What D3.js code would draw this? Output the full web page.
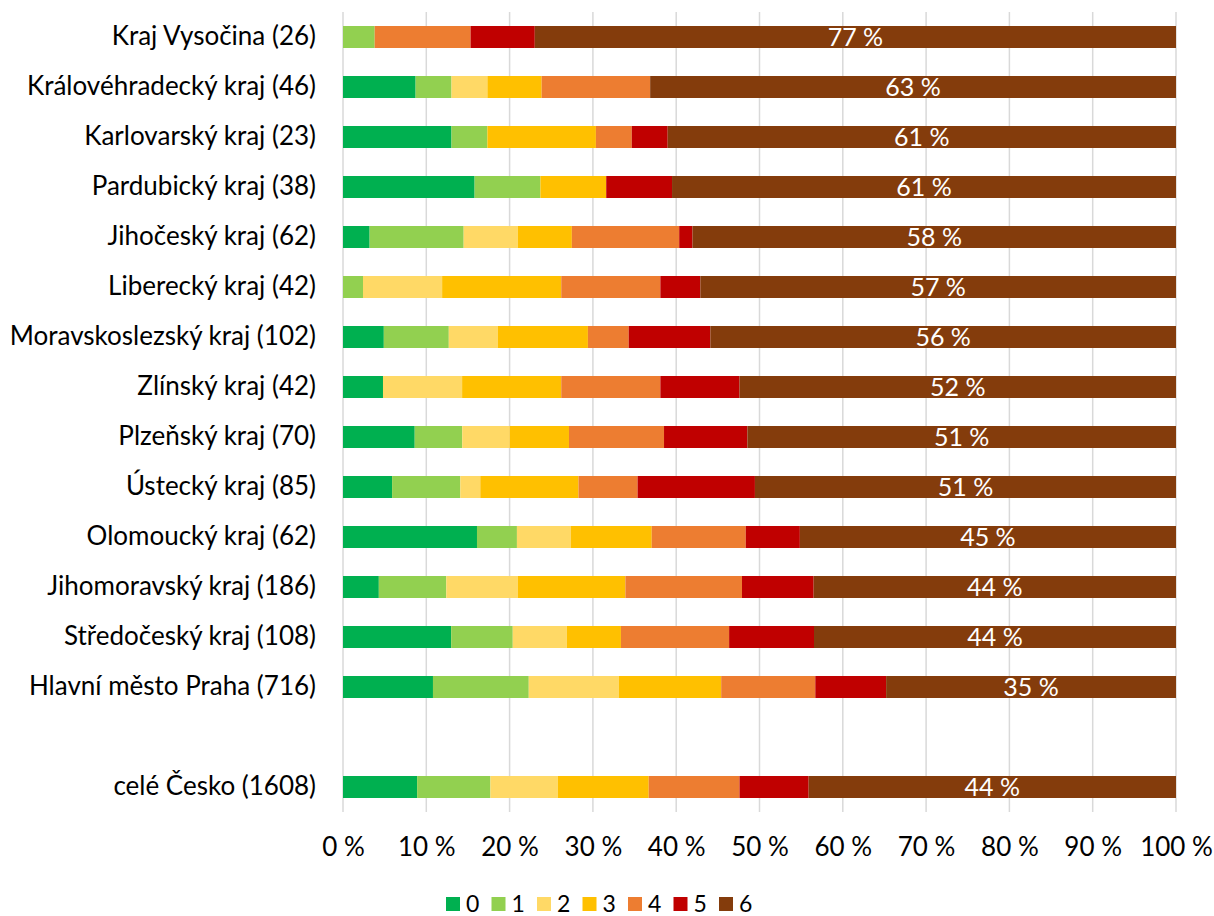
<!DOCTYPE html>
<html>
<head>
<meta charset="utf-8">
<script src="https://cdn.jsdelivr.net/npm/d3@7"></script>
<style>
  html, body { margin: 0; padding: 0; background: #fff; }
  svg { display: block; }
  text { font-family: Lato, "Open Sans", sans-serif; }
</style>
</head>
<body>
<svg id="chart" width="1214" height="916"></svg>
<script>
// Regions with number of respondents, top to bottom; the country total sits below a gap.
const regions = [
  "Kraj Vysočina", "Královéhradecký kraj", "Karlovarský kraj", "Pardubický kraj",
  "Jihočeský kraj", "Liberecký kraj", "Moravskoslezský kraj", "Zlínský kraj",
  "Plzeňský kraj", "Ústecký kraj", "Olomoucký kraj", "Jihomoravský kraj",
  "Středočeský kraj", "Hlavní město Praha", "celé Česko"
];
const respondents = [26, 46, 23, 38, 62, 42, 102, 42, 70, 85, 62, 186, 108, 716, 1608];

// Share (%) of each score 0–6 per region, same order as regions
const score0 = [0, 8.7, 13.0, 15.8, 3.2, 0, 4.9, 4.8, 8.6, 5.9, 16.1, 4.3, 13.0, 10.8, 8.9];
const score1 = [3.8, 4.3, 4.3, 7.9, 11.3, 2.4, 7.8, 0, 5.7, 8.2, 4.8, 8.1, 7.4, 11.5, 8.8];
const score2 = [0, 4.3, 0, 0, 6.5, 9.5, 5.9, 9.5, 5.7, 2.4, 6.5, 8.6, 6.5, 10.8, 8.1];
const score3 = [0, 6.5, 13.0, 7.9, 6.5, 14.3, 10.8, 11.9, 7.1, 11.8, 9.7, 12.9, 6.5, 12.3, 10.9];
const score4 = [11.5, 13.0, 4.3, 0, 12.9, 11.9, 4.9, 11.9, 11.4, 7.1, 11.3, 14.0, 13.0, 11.3, 10.9];
const score5 = [7.7, 0, 4.3, 7.9, 1.6, 4.8, 9.8, 9.5, 10.0, 14.1, 6.5, 8.6, 10.2, 8.5, 8.3];
const score6 = [76.9, 63.0, 60.9, 60.5, 58.1, 57.1, 55.9, 52.4, 51.4, 50.6, 45.2, 43.5, 43.5, 34.8, 44.1];

const scoreKeys = ["0", "1", "2", "3", "4", "5", "6"];
const scoreColors = ["#00b050", "#92d050", "#ffd966", "#ffc000", "#ed7d31", "#c00000", "#843c0c"];
const xTicks = [0, 0.1, 0.2, 0.3, 0.4, 0.5, 0.6, 0.7, 0.8, 0.9, 1];

const FONT = 26;

const series = [score0, score1, score2, score3, score4, score5, score6];
const rows = regions.map((name, i) => {
  const row = { label: `${name} (${respondents[i]})` };
  scoreKeys.forEach((k, j) => { row[k] = series[j][i]; });
  return row;
});

// Slot order: fourteen regions, an empty slot, then the whole country
const slots = rows.slice(0, 14).map(r => r.label).concat(["__gap__", rows[14].label]);

const svg = d3.select("#chart");
const x = d3.scaleLinear().domain([0, 1]).range([343, 1176]);
const y = d3.scaleBand().domain(slots).range([12, 812]).paddingInner(0.56).paddingOuter(0.28);

// Vertical gridlines
svg.append("g")
  .selectAll("line")
  .data(xTicks)
  .join("line")
  .attr("x1", d => x(d)).attr("x2", d => x(d))
  .attr("y1", 12).attr("y2", 812)
  .attr("stroke", "#d9d9d9").attr("stroke-width", 1.5);

// Stacked 100 % bars
const stacked = d3.stack().keys(scoreKeys).offset(d3.stackOffsetExpand)(rows);
const layers = svg.append("g")
  .selectAll("g")
  .data(stacked)
  .join("g")
  .attr("fill", (d, i) => scoreColors[i]);

layers.selectAll("rect")
  .data(d => d.map(p => ({ p, label: p.data.label })))
  .join("rect")
  .attr("x", d => x(d.p[0]))
  .attr("width", d => Math.max(0, x(d.p[1]) - x(d.p[0])))
  .attr("y", d => y(d.label))
  .attr("height", y.bandwidth());

// Value labels for score 6
const lastLayer = stacked[6];
svg.append("g")
  .selectAll("text")
  .data(lastLayer)
  .join("text")
  .attr("x", d => (x(d[0]) + x(d[1])) / 2)
  .attr("y", d => y(d.data.label) + y.bandwidth() / 2)
  .attr("dy", "0.36em")
  .attr("text-anchor", "middle")
  .attr("fill", "#fff")
  .attr("font-size", FONT - 1)
  .text(d => `${Math.round(d.data["6"])} %`);

// Category axis
const yAxis = svg.append("g")
  .attr("transform", `translate(${x(0)},0)`)
  .call(d3.axisLeft(y).tickSize(0).tickPadding(27).tickFormat(d => d === "__gap__" ? "" : d));
yAxis.select(".domain").remove();
yAxis.selectAll("text").attr("font-size", FONT).attr("fill", "#000")
  .style("font-family", "Lato, 'Open Sans', sans-serif");

// Percentage axis
const xAxis = svg.append("g")
  .attr("transform", "translate(0,812)")
  .call(d3.axisBottom(x).tickValues(xTicks).tickSize(0)
    .tickFormat(d => `${Math.round(d * 100)} %`));
xAxis.select(".domain").remove();
xAxis.selectAll("text").attr("font-size", FONT).attr("fill", "#000")
  .attr("y", 35).attr("dy", "0.36em")
  .style("font-family", "Lato, 'Open Sans', sans-serif");

// Legend
const legend = svg.append("g").attr("transform", "translate(446,904)");
const item = legend.selectAll("g")
  .data(scoreKeys)
  .join("g")
  .attr("transform", (d, i) => `translate(${i * 45.5},0)`);
item.append("rect")
  .attr("x", 0).attr("y", -7).attr("width", 14).attr("height", 14)
  .attr("fill", (d, i) => scoreColors[i]);
item.append("text")
  .attr("x", 20).attr("dy", "0.35em")
  .attr("font-size", 23).attr("fill", "#000")
  .text(d => d);
</script>
</body>
</html>
